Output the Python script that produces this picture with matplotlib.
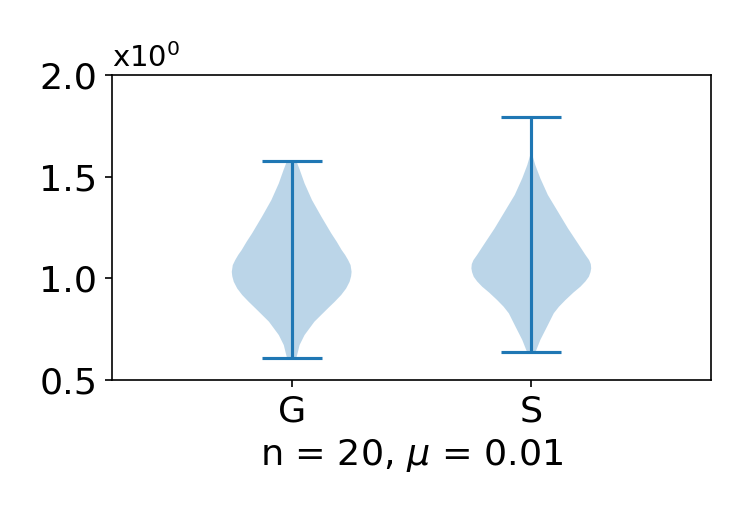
import matplotlib
matplotlib.use("Agg")
import matplotlib.pyplot as plt

# density profiles (value, relative half-width)
labels = ["G", "S"]
g_coords = [0.606, 0.623, 0.672, 0.721, 0.787, 0.852, 0.885, 0.918, 0.950, 0.983, 1.010, 1.032,
            1.065, 1.090, 1.115, 1.139, 1.180, 1.221, 1.303, 1.385, 1.467, 1.533, 1.576]
g_dens = [4.5, 5.5, 8, 13, 23, 36.5, 43.5, 50, 55, 58.5, 60, 60.5,
          59.5, 57, 54, 50.5, 45.5, 40, 30, 20.5, 13, 8.2, 4.8]
s_coords = [0.636, 0.647, 0.697, 0.762, 0.828, 0.860, 0.893, 0.930, 0.959, 0.985, 1.008, 1.030, 1.049,
            1.070, 1.090, 1.115, 1.164, 1.246, 1.328, 1.410, 1.492, 1.557, 1.607, 1.640, 1.793]
s_dens = [4, 5, 9, 15.7, 22.4, 27.5, 34, 42, 49, 54, 57.4, 59, 59.7,
          59.3, 57.6, 54, 47.5, 36.5, 26.5, 16.5, 9, 4, 1, 0, 0]
g_median, s_median = 1.04, 1.06
g_mean, s_mean = 1.06, 1.08

vpstats = [
    dict(coords=g_coords, vals=g_dens, mean=g_mean, median=g_median,
         min=min(g_coords), max=max(g_coords), quantiles=[]),
    dict(coords=s_coords, vals=s_dens, mean=s_mean, median=s_median,
         min=min(s_coords), max=max(s_coords), quantiles=[]),
]

plt.rcParams['font.size'] = 17.5
fig = plt.figure(figsize=(5, 3.5), dpi=150)
ax = fig.add_axes([0.1493, 0.2762, 0.7987, 0.5810])

ax.violin(vpstats, positions=[1, 2], widths=0.5, showextrema=True)

ax.set_xlim(0.25, 2.75)
ax.set_ylim(0.5, 2.0)
ax.set_xticks([1, 2])
ax.set_xticklabels(labels)
ax.set_yticks([0.5, 1.0, 1.5, 2.0])
ax.set_yticklabels(["0.5", "1.0", "1.5", "2.0"])
ax.set_xlabel(r"n = 20, $\mu$ = 0.01")
ax.text(0.0, 1.005, r"x10$^0$", transform=ax.transAxes, ha="left", va="bottom", fontsize=14)

fig.savefig("out.png", dpi=150)
